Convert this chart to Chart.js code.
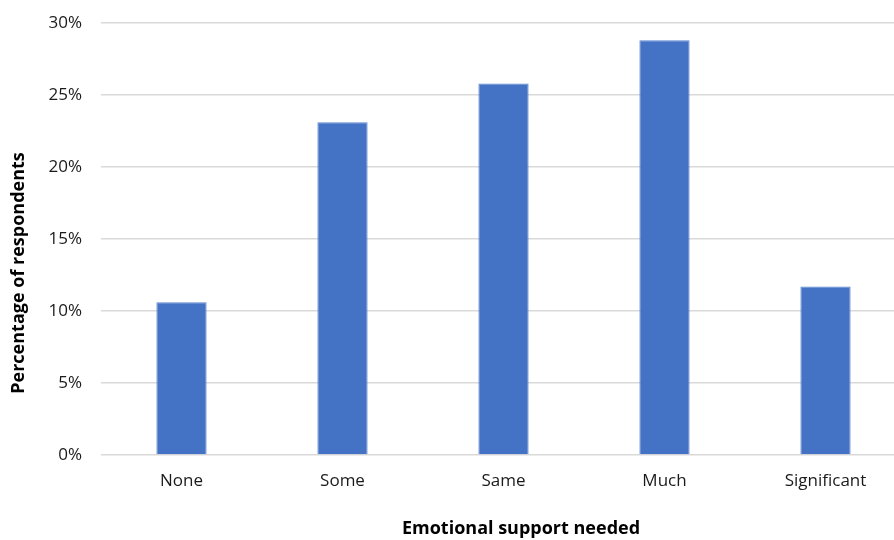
<!DOCTYPE html>
<html>
<head>
<meta charset="utf-8">
<script src="https://cdn.jsdelivr.net/npm/chart.js@4/dist/chart.umd.min.js"></script>
<style>
  html, body { margin: 0; padding: 0; background: #fff; overflow: hidden; }
  #wrap { position: relative; width: 910px; height: 540px; }
</style>
</head>
<body>
<div id="wrap"><canvas id="c"></canvas></div>
<script>
const categories = ["None", "Some", "Same", "Much", "Significant"];
const percentValues = [10.6, 23.1, 25.8, 28.8, 11.7];
const yTicks = [0, 5, 10, 15, 20, 25, 30];
const xAxisTitle = "Emotional support needed";
const yAxisTitle = "Percentage of respondents";

const FONT = "'Open Sans', 'Liberation Sans', sans-serif";
const TEXT = "#1a1a1a";

const titlesPlugin = {
  id: 'axisTitles',
  afterDraw(chart) {
    const ctx = chart.ctx;
    ctx.save();
    ctx.fillStyle = "#000";
    ctx.font = "bold 18px " + FONT;
    ctx.textAlign = "center";
    ctx.textBaseline = "middle";
    ctx.fillText(xAxisTitle, 521, 529);
    ctx.translate(19, 273);
    ctx.rotate(-Math.PI / 2);
    ctx.fillText(yAxisTitle, 0, 0);
    ctx.restore();
  }
};

new Chart(document.getElementById('c'), {
  type: 'bar',
  data: {
    labels: categories,
    datasets: [{
      data: percentValues,
      backgroundColor: '#4472C4',
      borderColor: '#5b86d2',
      borderWidth: 1,
      categoryPercentage: 1,
      barPercentage: 0.312
    }]
  },
  plugins: [titlesPlugin],
  options: {
    responsive: true,
    maintainAspectRatio: false,
    animation: false,
    layout: { padding: { top: 23, right: 4, left: 0, bottom: 0 } },
    plugins: { legend: { display: false }, tooltip: { enabled: false } },
    scales: {
      x: {
        grid: { display: false, drawTicks: false },
        border: { display: false },
        ticks: { color: TEXT, font: { family: FONT, size: 17 }, padding: 16 },
        afterFit(s) { s.height = 85; s.paddingLeft = 0; s.paddingRight = 0; }
      },
      y: {
        min: 0, max: 30,
        afterBuildTicks(s) { s.ticks = yTicks.map(v => ({ value: v })); },
        grid: { color: '#d9d9d9', lineWidth: 1.4, drawTicks: false },
        border: { display: false },
        ticks: { color: TEXT, font: { family: FONT, size: 17 }, padding: 19,
                 callback: v => v + '%' },
        afterFit(s) { s.width = 101; s.paddingTop = 0; s.paddingBottom = 0; }
      }
    }
  }
});
</script>
</body>
</html>
